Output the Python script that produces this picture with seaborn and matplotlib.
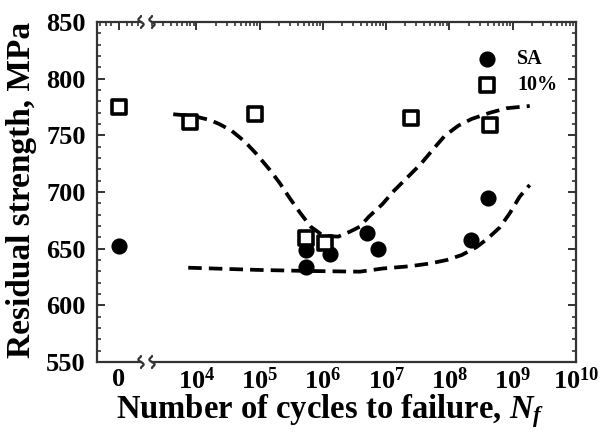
import numpy as np
import pandas as pd
import matplotlib
matplotlib.use("Agg")
import matplotlib.pyplot as plt
from matplotlib.lines import Line2D
import matplotlib.ticker as mticker
import seaborn as sns

# ---------------- data ----------------
sa_cycles = [0, 5.4e5, 5.4e5, 1.3e6, 4.9e6, 7.4e6, 2.2e8, 4.0e8]
sa_strength = [652, 649, 634, 645, 664, 650, 658, 695]

p10_cycles = [0, 7.9e3, 8.4e4, 5.4e5, 1.07e6, 2.5e7, 4.4e8]
p10_strength = [775, 762, 769, 659, 655, 765, 759]

# fitted trend curves (log10 of cycles, strength)
fit10_log = [3.633, 3.949, 4.213, 4.371, 4.556, 4.766, 4.951, 5.161, 5.319, 5.477,
             5.635, 5.806, 6.003, 6.240, 6.425, 6.583, 6.725, 6.938, 7.123, 7.333,
             7.543, 7.755, 7.926, 8.136, 8.348, 8.637, 8.900, 9.269]
fit10_val = [768.6, 767.1, 763.5, 759.7, 754.0, 744.4, 733.4, 719.4, 707.7, 694.4,
             681.9, 669.4, 661.4, 660.6, 665.0, 669.4, 678.2, 689.2, 701.1, 712.8,
             724.5, 738.6, 749.6, 758.4, 764.4, 769.9, 773.9, 775.9]

fitsa_log = [3.870, 5.003, 5.793, 6.583, 6.946, 7.373, 7.689, 7.957, 8.194, 8.431,
             8.605, 8.794, 8.952, 9.110, 9.268]
fitsa_val = [633.2, 631.2, 630.3, 629.7, 632.5, 634.5, 636.9, 640.0, 644.4, 651.5,
             659.0, 668.7, 681.2, 695.9, 706.2]

y_ticks = [550, 600, 650, 700, 750, 800, 850]
x_decades = [4, 5, 6, 7, 8, 9, 10]
legend_labels = ["SA", "10%"]

# ---------------- style ----------------
sns.set_style("white")
plt.rcParams["font.family"] = ["Liberation Serif", "DejaVu Serif"]
plt.rcParams["font.weight"] = "bold"
plt.rcParams["text.color"] = "black"
plt.rcParams["axes.labelcolor"] = "black"
plt.rcParams["xtick.color"] = "black"
plt.rcParams["ytick.color"] = "black"
plt.rcParams["mathtext.fontset"] = "custom"
plt.rcParams["mathtext.rm"] = "Liberation Serif:bold"
plt.rcParams["mathtext.bf"] = "Liberation Serif:bold"
plt.rcParams["mathtext.it"] = "Liberation Serif:bold:italic"

W, H = 609, 434
fig = plt.figure(figsize=(W / 100, H / 100), dpi=100)

def fx(px):
    return px / W

def fy(py):
    return 1 - py / H

ax_top, ax_bot = 22, 362
axL = fig.add_axes([fx(97), fy(ax_bot), fx(141) - fx(97), fy(ax_top) - fy(ax_bot)])
axR = fig.add_axes([fx(152), fy(ax_bot), fx(576) - fx(152), fy(ax_top) - fy(ax_bot)], sharey=axL)

sa = pd.DataFrame({"N": sa_cycles, "S": sa_strength})
p10 = pd.DataFrame({"N": p10_cycles, "S": p10_strength})
f10 = pd.DataFrame({"N": 10 ** np.array(fit10_log), "S": fit10_val})
fsa = pd.DataFrame({"N": 10 ** np.array(fitsa_log), "S": fitsa_val})

circ_kw = dict(marker="o", s=135, color="black", edgecolor="black", linewidth=0, zorder=4)
sq_kw = dict(marker="s", s=95, facecolor="white", edgecolor="black", linewidth=2.6, zorder=5)
dash = (0, (3.6, 1.9))

# left section (N = 0)
sns.scatterplot(data=sa[sa.N == 0].assign(x=0.0), x="x", y="S", ax=axL, **circ_kw)
sns.scatterplot(data=p10[p10.N == 0].assign(x=0.0), x="x", y="S", ax=axL, **sq_kw)

# right section (log)
sns.lineplot(data=f10, x="N", y="S", ax=axR, color="black", linewidth=2.7,
             linestyle=dash, sort=False, zorder=3)
sns.lineplot(data=fsa, x="N", y="S", ax=axR, color="black", linewidth=2.7,
             linestyle=dash, sort=False, zorder=3)
sns.scatterplot(data=sa[sa.N > 0], x="N", y="S", ax=axR, label=legend_labels[0], **circ_kw)
sns.scatterplot(data=p10[p10.N > 0], x="N", y="S", ax=axR, label=legend_labels[1], **sq_kw)

axR.set_xscale("log")
axR.set_xlim(10 ** 3.297, 1e10)
axL.set_xlim(-1, 1)
axL.set_ylim(550, 850)

spine_c = "#333333"
for ax in (axL, axR):
    ax.set_xlabel("")
    ax.set_ylabel("")
    for s in ax.spines.values():
        s.set_color(spine_c)
        s.set_linewidth(1.6)
    ax.tick_params(which="major", direction="in", length=6, width=1.4, color=spine_c,
                   labelsize=19, labelcolor="black", top=True, pad=4)
    ax.tick_params(which="minor", direction="in", length=3, width=1.2, color=spine_c, top=True)

axL.spines["right"].set_visible(False)
axR.spines["left"].set_visible(False)

axL.set_yticks(y_ticks)
axL.yaxis.set_minor_locator(mticker.MultipleLocator(10))
axL.tick_params(axis="y", which="both", left=True, right=False)
axL.tick_params(axis="y", which="major", pad=8)
axL.set_yticklabels([str(v) for v in y_ticks], fontweight="bold")

axL.set_xticks([0])
axL.set_xticklabels(["0"], fontweight="bold")
axL.set_xticks([-0.85, -0.6, -0.35, 0.35, 0.6, 0.85], minor=True)

axR.tick_params(axis="y", which="both", left=False, right=True, labelleft=False, labelright=False)
axR.set_xticks([10.0 ** d for d in x_decades])
axR.set_xticklabels([r"10$^{\mathbf{%d}}$" % d for d in x_decades], fontweight="bold")
axR.xaxis.set_minor_locator(mticker.LogLocator(base=10, subs=np.arange(2, 10), numticks=20))
axR.xaxis.set_minor_formatter(mticker.NullFormatter())

leg = axR.legend(loc="upper right", bbox_to_anchor=(0.985, 0.955), frameon=False,
                 prop={"family": "Liberation Serif", "weight": "bold", "size": 14.5},
                 handletextpad=0.5, labelspacing=0.3, borderaxespad=0.2)

# break marks
for x0 in (141, 152):
    for y0 in (ax_top, ax_bot):
        t = np.linspace(-1, 1, 30)
        xs = x0 + 2.2 * np.sin(np.pi * t) * (1 - t ** 2) * 1.5
        ys = y0 + 6 * t
        fig.add_artist(Line2D([fx(v) for v in xs], [fy(v) for v in ys],
                              color=spine_c, linewidth=1.6))

fig.text(fx(330), fy(411), r"Number of cycles to failure, $\mathit{N_f}$",
         ha="center", va="center", fontsize=23.5, fontweight="bold")
fig.text(fx(22), fy(190), "Residual strength, MPa", rotation=90,
         ha="center", va="center", fontsize=24, fontweight="bold")

fig.savefig("out.png", dpi=100)
